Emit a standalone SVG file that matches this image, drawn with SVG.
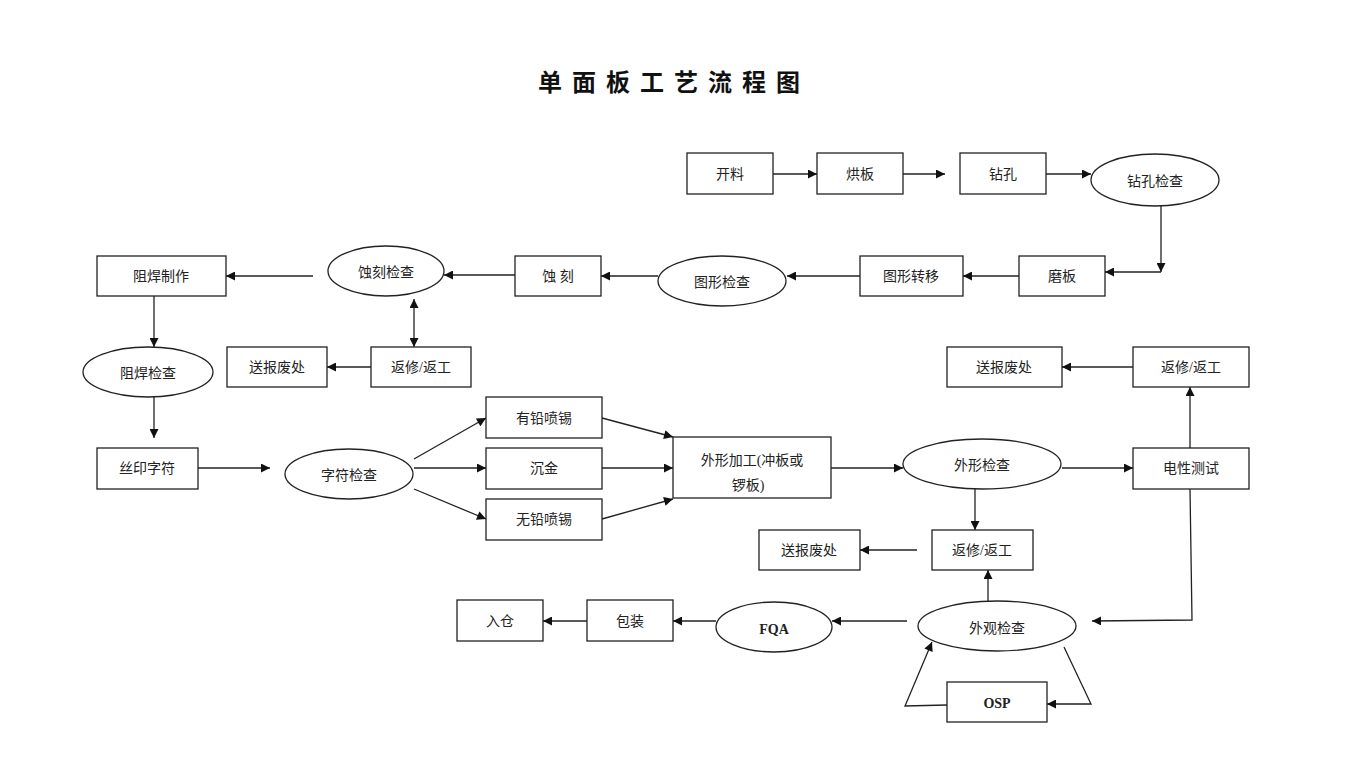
<svg xmlns="http://www.w3.org/2000/svg" width="1345" height="779" viewBox="0 0 1345 779">
<defs>
<marker id="ah" viewBox="0 0 10 10" refX="10" refY="5" markerWidth="10" markerHeight="9" markerUnits="userSpaceOnUse" orient="auto-start-reverse">
<path d="M0,0 L10,5 L0,10 z" fill="#111"/>
</marker>
</defs>
<style>
.n rect,.n ellipse{fill:#fff;stroke:#222;stroke-width:1.3}
.n text{font-family:"Liberation Serif","Noto Sans CJK SC",serif;font-size:14px;fill:#222;text-anchor:middle;dominant-baseline:central}
#edges line,#edges polyline{stroke:#222;stroke-width:1.3;fill:none}
.a{marker-end:url(#ah)}
.title{font-family:"Noto Sans CJK SC",sans-serif;font-size:24px;font-weight:bold;fill:#111;text-anchor:middle;letter-spacing:10px}
</style>
<rect width="1345" height="779" fill="#fff"/>
<text class="title" x="674" y="91">单面板工艺流程图</text>

<g id="edges">
<line class="a" x1="773" y1="174" x2="817" y2="174"/>
<line class="a" x1="903" y1="174" x2="945" y2="174"/>
<line class="a" x1="1046" y1="174" x2="1091" y2="174"/>
<line class="a" x1="1161" y1="206" x2="1161" y2="272"/>
<line class="a" x1="1161" y1="272" x2="1105" y2="272"/>
<line class="a" x1="1019" y1="276" x2="963" y2="276"/>
<line class="a" x1="860" y1="276" x2="787" y2="276"/>
<line class="a" x1="658" y1="276" x2="601" y2="276"/>
<line class="a" x1="515" y1="275" x2="444" y2="275"/>
<line class="a" x1="313" y1="276" x2="226" y2="276"/>
<line class="a" x1="414" y1="299" x2="414" y2="347" style="marker-start:url(#ah)"/>
<line class="a" x1="371" y1="367" x2="327" y2="367"/>
<line class="a" x1="154" y1="296" x2="154" y2="347"/>
<line class="a" x1="154" y1="397" x2="154" y2="438"/>
<line class="a" x1="198" y1="468" x2="270" y2="468"/>
<line class="a" x1="414" y1="459" x2="486" y2="418"/>
<line class="a" x1="414" y1="468" x2="486" y2="468"/>
<line class="a" x1="414" y1="489" x2="486" y2="519"/>
<line class="a" x1="602" y1="418" x2="673" y2="437"/>
<line class="a" x1="602" y1="468" x2="673" y2="468"/>
<line class="a" x1="602" y1="519" x2="673" y2="499"/>
<line class="a" x1="831" y1="468" x2="903" y2="468"/>
<line class="a" x1="1062" y1="468" x2="1133" y2="468"/>
<line class="a" x1="1190" y1="448" x2="1190" y2="387"/>
<line class="a" x1="1133" y1="367" x2="1062" y2="367"/>
<line class="a" x1="975" y1="489" x2="975" y2="530"/>
<line class="a" x1="917" y1="550" x2="860" y2="550"/>
<line class="a" x1="988" y1="601" x2="988" y2="570"/>
<polyline class="a" points="1190,489 1192,620 1092,621"/>
<line class="a" x1="907" y1="621" x2="832" y2="621"/>
<line class="a" x1="716" y1="621" x2="673" y2="621"/>
<line class="a" x1="587" y1="621" x2="543" y2="621"/>
<polyline class="a" points="1064,647 1091,704 1047,704"/>
<polyline class="a" points="947,705 905,706 932,642"/>
</g>

<g id="n-kailiao" class="n"><rect x="687" y="153" width="86" height="41"/><text x="730" y="174">开料</text></g>
<g id="n-hongban" class="n"><rect x="817" y="153" width="86" height="41"/><text x="860" y="174">烘板</text></g>
<g id="n-zuankong" class="n"><rect x="960" y="153" width="86" height="41"/><text x="1003" y="174">钻孔</text></g>
<g id="n-zuankongjc" class="n"><ellipse cx="1155" cy="180" rx="64" ry="26"/><text x="1155" y="181">钻孔检查</text></g>
<g id="n-moban" class="n"><rect x="1019" y="256" width="86" height="40"/><text x="1062" y="276">磨板</text></g>
<g id="n-txzy" class="n"><rect x="860" y="256" width="103" height="40"/><text x="911" y="276">图形转移</text></g>
<g id="n-txjc" class="n"><ellipse cx="722" cy="281" rx="64" ry="25"/><text x="722" y="282">图形检查</text></g>
<g id="n-shike" class="n"><rect x="515" y="256" width="86" height="40"/><text x="558" y="276">蚀  刻</text></g>
<g id="n-shikejc" class="n"><ellipse cx="386" cy="271" rx="58" ry="25"/><text x="386" y="272">蚀刻检查</text></g>
<g id="n-zhzz" class="n"><rect x="97" y="256" width="129" height="40"/><text x="161" y="276">阻焊制作</text></g>
<g id="n-fx1" class="n"><rect x="371" y="347" width="100" height="40"/><text x="421" y="367">返修/返工</text></g>
<g id="n-bf1" class="n"><rect x="227" y="347" width="100" height="40"/><text x="277" y="367">送报废处</text></g>
<g id="n-zhjc" class="n"><ellipse cx="148" cy="372" rx="65" ry="25"/><text x="148" y="373">阻焊检查</text></g>
<g id="n-sy" class="n"><rect x="97" y="448" width="101" height="41"/><text x="147" y="468">丝印字符</text></g>
<g id="n-zfjc" class="n"><ellipse cx="349" cy="474" rx="64" ry="25"/><text x="349" y="475">字符检查</text></g>
<g id="n-yq" class="n"><rect x="486" y="397" width="116" height="41"/><text x="544" y="418">有铅喷锡</text></g>
<g id="n-cj" class="n"><rect x="486" y="448" width="116" height="41"/><text x="544" y="468">沉金</text></g>
<g id="n-wq" class="n"><rect x="486" y="499" width="116" height="41"/><text x="544" y="519">无铅喷锡</text></g>
<g id="n-wxjg" class="n"><rect x="673" y="437" width="158" height="61"/><text x="752" y="460">外形加工(冲板或</text><text x="748" y="485">锣板)</text></g>
<g id="n-wxjc" class="n"><ellipse cx="982" cy="464" rx="79" ry="25"/><text x="982" y="465">外形检查</text></g>
<g id="n-dx" class="n"><rect x="1133" y="448" width="116" height="41"/><text x="1191" y="468">电性测试</text></g>
<g id="n-fx2" class="n"><rect x="1133" y="347" width="116" height="40"/><text x="1191" y="367">返修/返工</text></g>
<g id="n-bf2" class="n"><rect x="947" y="347" width="115" height="40"/><text x="1004" y="367">送报废处</text></g>
<g id="n-fx3" class="n"><rect x="932" y="530" width="101" height="40"/><text x="982" y="550">返修/返工</text></g>
<g id="n-bf3" class="n"><rect x="759" y="530" width="101" height="40"/><text x="809" y="550">送报废处</text></g>
<g id="n-wgjc" class="n"><ellipse cx="997" cy="626" rx="79" ry="25"/><text x="997" y="628">外观检查</text></g>
<g id="n-fqa" class="n"><ellipse cx="774" cy="627" rx="58" ry="25"/><text x="774" y="629" font-weight="bold">FQA</text></g>
<g id="n-bz" class="n"><rect x="587" y="600" width="86" height="41"/><text x="630" y="621">包装</text></g>
<g id="n-rc" class="n"><rect x="457" y="600" width="86" height="41"/><text x="500" y="621">入仓</text></g>
<g id="n-osp" class="n"><rect x="947" y="682" width="100" height="40"/><text x="997" y="703" font-weight="bold">OSP</text></g>
</svg>
